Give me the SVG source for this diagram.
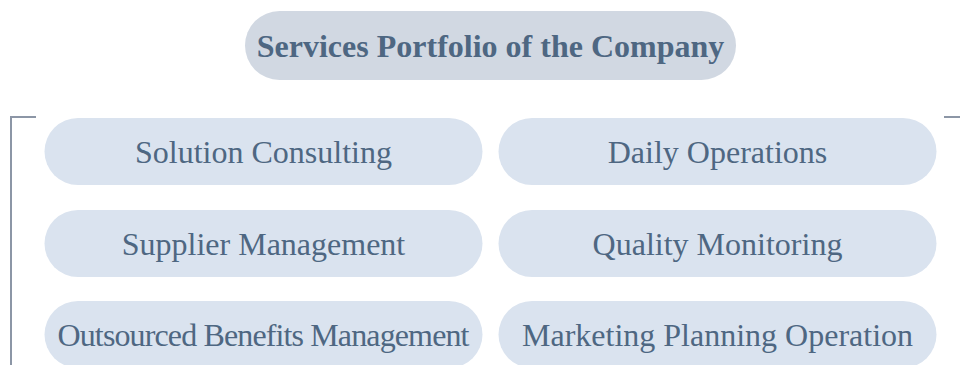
<svg xmlns="http://www.w3.org/2000/svg" width="960" height="365" viewBox="0 0 960 365">
  <style>
    .pill { fill: #dae3ef; }
    .title-pill { fill: #d1d8e2; }
    .label { font-family: "Liberation Serif", "Times New Roman", serif; font-size: 32px; fill: #4e6782; text-anchor: middle; }
    .title { font-family: "Liberation Serif", "Times New Roman", serif; font-size: 32px; font-weight: bold; fill: #4e6782; text-anchor: middle; }
    .bracket { fill: none; stroke: #8c96a6; stroke-width: 2; }
  </style>
  <rect width="960" height="365" fill="#ffffff"/>

  <!-- frame lines -->
  <g id="connectors">
    <polyline class="bracket" points="36,117 11,117 11,365"/>
    <line class="bracket" x1="944" y1="117" x2="960" y2="117"/>
  </g>

  <g id="title">
    <rect class="title-pill" x="245" y="11" width="491" height="69" rx="34.5"/>
    <text class="title" x="490.5" y="56.5">Services Portfolio of the Company</text>
  </g>

  <g id="solution-consulting">
    <rect class="pill" x="44.5" y="118" width="438" height="67" rx="33.5"/>
    <text class="label" x="263.5" y="162.5">Solution Consulting</text>
  </g>
  <g id="daily-operations">
    <rect class="pill" x="498.5" y="118" width="438" height="67" rx="33.5"/>
    <text class="label" x="717.5" y="162.5">Daily Operations</text>
  </g>

  <g id="supplier-management">
    <rect class="pill" x="44.5" y="210" width="438" height="67" rx="33.5"/>
    <text class="label" x="263.5" y="254.5">Supplier Management</text>
  </g>
  <g id="quality-monitoring">
    <rect class="pill" x="498.5" y="210" width="438" height="67" rx="33.5"/>
    <text class="label" x="717.5" y="254.5">Quality Monitoring</text>
  </g>

  <g id="outsourced-benefits-management">
    <rect class="pill" x="44.5" y="301" width="438" height="67" rx="33.5"/>
    <text class="label" x="263.5" y="345.5" textLength="412" lengthAdjust="spacing">Outsourced Benefits Management</text>
  </g>
  <g id="marketing-planning-operation">
    <rect class="pill" x="498.5" y="301" width="438" height="67" rx="33.5"/>
    <text class="label" x="717.5" y="345.5">Marketing Planning Operation</text>
  </g>
</svg>
